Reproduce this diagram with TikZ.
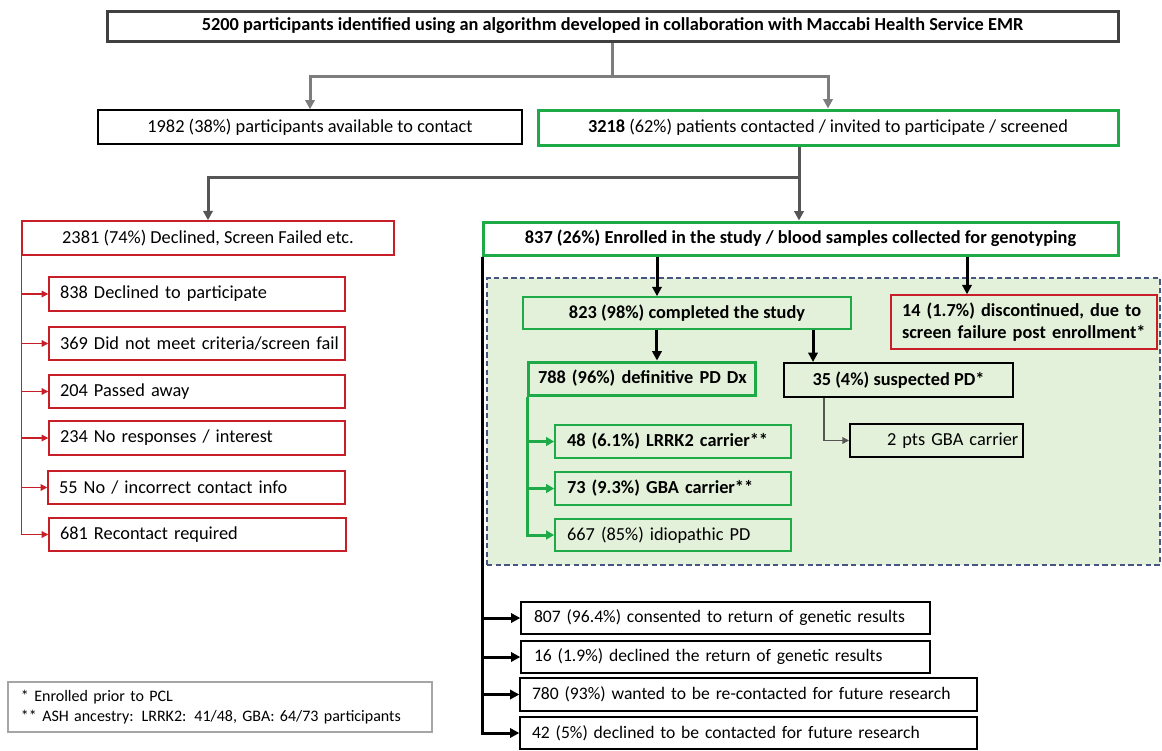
\documentclass[tikz,border=0pt]{standalone}
\usepackage{fontspec}
\setmainfont{Carlito}
\usetikzlibrary{arrows.meta}
\definecolor{cgreen}{RGB}{30,170,70}
\definecolor{cred}{RGB}{200,30,40}
\definecolor{cfill}{RGB}{227,240,218}
\definecolor{cdash}{RGB}{70,85,130}
\definecolor{cgray}{RGB}{125,125,125}
\definecolor{cdgray}{RGB}{85,85,85}
\definecolor{ctitle}{RGB}{64,64,64}
\definecolor{clegend}{RGB}{165,165,165}
\newcommand\fs{\fontsize{13.75pt}{16pt}\selectfont}
\newcommand\fsb{\fontsize{13.2pt}{16pt}\selectfont}
\newcommand\mybox[7]{%
  \pgfmathsetmacro\bw{(#5-#3)*0.75}%
  \pgfmathsetmacro\bh{(#6-#4)*0.75}%
  \node[#1, minimum width=\bw pt, minimum height=\bh pt] (#2) at ({(#3+#5)/2},{(#4+#6)/2}) {#7};}
\tikzset{
  box/.style={draw, inner sep=0pt},
  lft/.style={text width=#1, align=left},
  tbox/.style={box, draw=ctitle, line width=2.25pt, fill=white},
  wbox/.style={box, draw=black, line width=1pt, fill=white},
  gthick/.style={box, draw=cgreen, line width=2.25pt},
  gthin/.style={box, draw=cgreen, line width=1.3pt},
  rbox/.style={box, draw=cred, line width=1.1pt},
  kbox/.style={box, draw=black, line width=1.5pt},
  region/.style={box, draw=cdash, fill=cfill, line width=0.8pt, dash pattern=on 4pt off 2.5pt},
  legbox/.style={box, draw=clegend, line width=0.8pt, fill=white},
  tipbig/.style={-{Triangle[length=7pt,width=7pt]}},
  gline/.style={draw=cgray, line width=2.25pt},
  dgline/.style={draw=cdgray, line width=2.25pt},
  rline/.style={draw=cred, line width=0.9pt, -{Triangle[length=5pt,width=5pt]}},
  kline/.style={draw=black, line width=2.25pt},
  grline/.style={draw=cgreen, line width=2.25pt, -{Triangle[length=6pt,width=6.5pt]}},
  sline/.style={draw=cdgray, line width=1.1pt, -{Triangle[length=5pt,width=5pt]}},
}
\begin{document}
\begin{tikzpicture}[x=0.75pt,y=-0.75pt,font=\fs]
\useasboundingbox (0,0) rectangle (1162,750);

% shaded region
\mybox{region}{region}{487}{278}{1160}{565}{}

% top level
\mybox{tbox}{top}{107}{11}{1118}{41}{\bfseries 5200 participants identified using an algorithm developed in collaboration with Maccabi Health Service EMR}
\mybox{wbox}{avail}{98}{110}{522}{144}{1982 (38\%) participants available to contact}
\mybox{gthick, fill=white}{contacted}{538}{110}{1118}{145}{\textbf{3218} (62\%) patients contacted / invited to participate / screened}

% second level
\mybox{rbox, fill=white}{declined}{22}{221}{394}{255}{2381 (74\%) Declined, Screen Failed etc.}
\mybox{gthick, fill=white}{enrolled}{483}{222}{1118}{255}{\bfseries 837 (26\%) Enrolled in the study / blood samples collected for genotyping}

% declined reasons
\mybox{rbox, fill=white, lft=205.5pt}{d1}{49}{277}{345}{311}{\mbox{838 Declined to participate}}
\mybox{rbox, fill=white, lft=205.5pt}{d2}{49}{327}{345}{360}{\mbox{369 Did not meet criteria/screen fail}}
\mybox{rbox, fill=white, lft=205.5pt}{d3}{49}{375}{345}{408}{\mbox{204 Passed away}}
\mybox{rbox, fill=white, lft=205.5pt}{d4}{49}{421}{345}{455}{\mbox{234 No responses / interest}}
\mybox{rbox, fill=white, lft=206.25pt}{d5}{48}{471}{345}{504}{\mbox{55 No / incorrect contact info}}
\mybox{rbox, fill=white, lft=206.25pt}{d6}{49}{518}{346}{551}{\mbox{681 Recontact required}}

% inside region
\mybox{gthin}{completed}{523}{297}{851}{329}{\bfseries 823 (98\%) completed the study}
\mybox{rbox, lft=183pt}{disc}{891}{295}{1157}{349}{\bfseries \mbox{14 (1.7\%) discontinued, due to}\\\mbox{screen failure post enrollment*}}
\mybox{gthick, lft=155.25pt}{definitive}{528}{362}{755}{395}{\bfseries\mbox{788 (96\%) definitive PD Dx}}
\mybox{kbox}{suspected}{784}{363}{1013}{397}{\bfseries 35 (4\%) suspected PD*}
\mybox{gthin, lft=159pt}{lrrk}{555}{425}{791}{458}{\bfseries\mbox{48 (6.1\%) LRRK2 carrier**}}
\mybox{gthin, lft=159pt}{gba}{555}{472}{791}{505}{\bfseries\mbox{73 (9.3\%) GBA carrier**}}
\mybox{gthin, lft=159pt}{idio}{555}{519}{791}{551}{\mbox{667 (85\%) idiopathic PD}}
\mybox{kbox, lft=74.25pt}{gbatwo}{850}{424}{1023}{457}{\mbox{2 pts GBA carrier}}

% bottom boxes
\mybox{wbox, font=\fsb, lft=287.25pt}{r1}{521}{602}{930}{634}{\mbox{807 (96.4\%) consented to return of genetic results}}
\mybox{wbox, font=\fsb, lft=287.25pt}{r2}{521}{641}{930}{673}{\mbox{16 (1.9\%) declined the return of genetic results}}
\mybox{wbox, font=\fsb, lft=324.75pt}{r3}{520}{678}{977}{711}{\mbox{780 (93\%) wanted to be re-contacted for future research}}
\mybox{wbox, font=\fsb, lft=324.75pt}{r4}{520}{717}{977}{749}{\mbox{42 (5\%) declined to be contacted for future research}}

% legend
\mybox{legbox, lft=298.5pt, font=\fontsize{12pt}{15pt}\selectfont}{legend}{8}{682}{432}{732}{\mbox{* Enrolled prior to PCL}\\\mbox{** ASH ancestry: LRRK2: 41/48, GBA: 64/73 participants}}

% connectors level 1
\coordinate (j1) at (612,76);
\draw[gline] (j1 |- top.south) -- (j1);
\draw[gline, tipbig] (j1) -| (avail.north);
\draw[gline, tipbig] (j1) -| (contacted.north);

% connectors level 2
\coordinate (j2) at (799,177);
\draw[dgline] (j2 |- contacted.south) -- (j2);
\draw[dgline, tipbig] (j2) -| (declined.north);
\draw[dgline, tipbig] (j2) -- (j2 |- enrolled.north);

% red tree
\foreach \n in {d1,d2,d3,d4,d5,d6}
  \draw[rline] (declined.south west) |- (\n.west);

% enrolled arrows
\coordinate (c1) at ([xshift=-22.5pt]completed.north);
\draw[kline, tipbig] (enrolled.south -| c1) -- (c1);
\coordinate (c2) at ([xshift=-42.75pt]disc.north);
\draw[kline, tipbig] (enrolled.south -| c2) -- (c2);

% completed arrows
\coordinate (c3) at ([xshift=11.6pt]definitive.north);
\draw[kline, tipbig] (completed.south -| c3) -- (c3);
\coordinate (c4) at ([xshift=-64.1pt]suspected.north);
\draw[kline, tipbig] (completed.south -| c4) -- (c4);

% green tree
\foreach \n in {lrrk,gba,idio}
  \draw[grline] ([xshift=0.75pt]definitive.south west) |- (\n.west);

% suspected -> 2 pts
\draw[sline] ([xshift=30.75pt]suspected.south west) |- (gbatwo.west);

% black tree to bottom boxes
\foreach \n in {r1,r2,r3,r4}
  \draw[kline, -{Triangle[length=7pt,width=7pt]}] ([xshift=0.4pt]enrolled.south west) |- (\n.west);
\end{tikzpicture}
\end{document}
